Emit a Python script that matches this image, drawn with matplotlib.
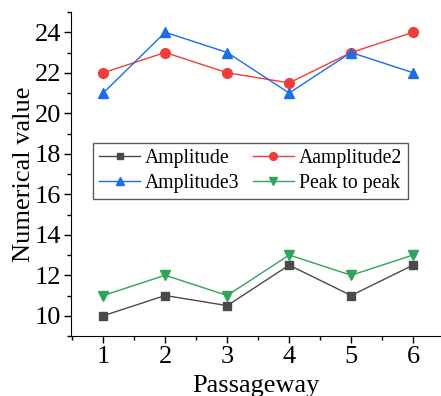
import matplotlib.pyplot as plt
from matplotlib.ticker import MultipleLocator

# data
passage = [1, 2, 3, 4, 5, 6]
amp1 = [10, 11, 10.5, 12.5, 11, 12.5]
amp2 = [22, 23, 22, 21.5, 23, 24]
amp3 = [21, 24, 23, 21, 23, 22]
p2p = [11, 12, 11, 13, 12, 13]

plt.rcParams['font.family'] = ['Liberation Serif', 'DejaVu Serif']

fig = plt.figure(figsize=(4.41, 3.96), dpi=100)
ax = fig.add_axes([71/441, 60/396, 1 - 71/441, 324/396])

l1, = ax.plot(passage, amp1, color='#4a4a4a', marker='s', ms=6, lw=1, label='Amplitude')
l2, = ax.plot(passage, amp2, color='#f03c3c', marker='o', ms=7, lw=1, label='Aamplitude2')
l3, = ax.plot(passage, amp3, color='#1a6ee6', marker='^', ms=7, lw=1, label='Amplitude3')
l4, = ax.plot(passage, p2p, color='#2ea55a', marker='v', ms=7, lw=1, label='Peak to peak')

ax.set_xlim(0.48, 6.45)
ax.set_ylim(9, 25)
ax.xaxis.set_major_locator(MultipleLocator(1))
ax.xaxis.set_minor_locator(MultipleLocator(0.5))
ax.yaxis.set_major_locator(MultipleLocator(2))
ax.yaxis.set_minor_locator(MultipleLocator(1))
ax.tick_params(which='major', length=5, width=1, labelsize=19, direction='out', pad=2)
ax.tick_params(which='minor', length=3, width=1, direction='out')
for s in ['top', 'right']:
    ax.spines[s].set_visible(False)

ax.set_xlabel('Passageway', fontsize=19, labelpad=5)
ax.set_ylabel('Numerical value', fontsize=19, labelpad=0)

# matplotlib fills columns first; reorder so rows read like the reference
handles = [l1, l3, l2, l4]
leg = ax.legend(handles, [h.get_label() for h in handles], ncol=2, fontsize=14.2,
                loc='upper left', bbox_to_anchor=(93/441, 1 - 143/396),
                bbox_transform=fig.transFigure, fancybox=False, edgecolor='#333333',
                handlelength=2.1, markerscale=0.8, columnspacing=0.65, handletextpad=0.25,
                borderpad=0.3, labelspacing=0.3, borderaxespad=0)
leg.get_frame().set_linewidth(1)

fig.savefig('out.png', dpi=100)
